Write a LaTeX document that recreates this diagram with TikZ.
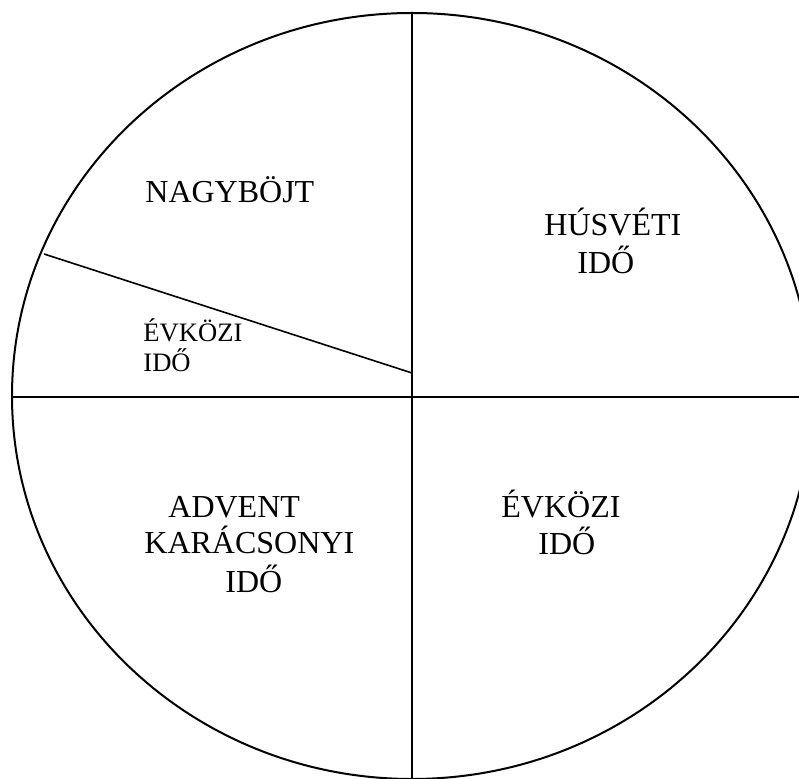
\documentclass[tikz,border=0pt]{standalone}
\usepackage{fontspec}
\setmainfont{Liberation Serif}
\begin{document}
\begin{tikzpicture}[x=0.5pt,y=-0.5pt,
  season/.style={anchor=base west,inner sep=0pt,font=\fontsize{16}{19}\selectfont},
  smallseason/.style={anchor=base west,inner sep=0pt,font=\fontsize{13.3}{16}\selectfont}]
  \useasboundingbox (0,0) rectangle (799,779);
  \clip (0,0) rectangle (799,779);
  \coordinate (O) at (412,396);
  \draw[line width=1pt] (O) ellipse[x radius=200pt,y radius=191.5pt];
  % dividing lines
  \coordinate (top) at (412,13);
  \coordinate (bottom) at (412,779);
  \coordinate (left) at (12,397);
  \coordinate (right) at (799,397);
  \coordinate (rim) at (44,254);
  \coordinate (mid) at (412,373);
  \draw[line width=0.8pt] (top) -- (bottom);
  \draw[line width=0.8pt] (left) -- (right);
  \draw[line width=0.8pt] (rim) -- (mid);
  % labels
  \node[season] (nagybojt) at (145,203) {NAGYBÖJT};
  \node[season] (husveti) at (544,236) {HÚSVÉTI};
  \node[season] (husvetiido) at (577,274) {IDŐ};
  \node[smallseason] (evkozia) at (143,342) {ÉVKÖZI};
  \node[smallseason] (evkoziaido) at (143,372) {IDŐ};
  \node[season] (advent) at (168,518) {ADVENT};
  \node[season] (karacsony) at (144,554) {KARÁCSONYI};
  \node[season] (karacsonyido) at (225,593) {IDŐ};
  \node[season] (evkozib) at (501,518) {ÉVKÖZI};
  \node[season] (evkozibido) at (538,555) {IDŐ};
\end{tikzpicture}
\end{document}
